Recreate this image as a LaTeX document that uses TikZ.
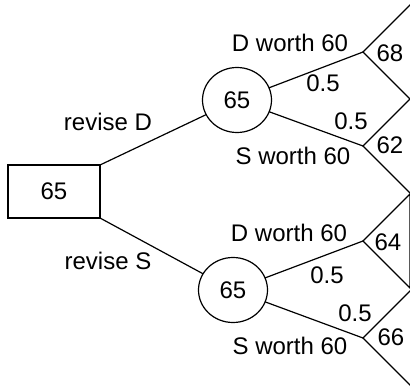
\documentclass[tikz,border=0pt]{standalone}
\usepackage{fontspec}
\setmainfont{Liberation Sans}
\usetikzlibrary{shapes.geometric}
\begin{document}
\begin{tikzpicture}[x=1pt,y=-1pt,
  every node/.style={font=\fontsize{24}{28}\selectfont, inner sep=0pt, outer sep=0pt},
  decision/.style={draw, rectangle, line width=1.2pt, minimum width=92pt, minimum height=53pt},
  chance/.style={draw, ellipse, line width=1.2pt, minimum width=69pt, minimum height=65pt},
  lab/.style={anchor=center},
  link/.style={line width=1.2pt},
  payoff/.style={line width=1.2pt, line join=miter}
]
\useasboundingbox (0,0) rectangle (410,388);
\clip (0,0) rectangle (410,388);

% decision and chance nodes
\node[decision] (root) at (54,191.5) {65};
\node[chance] (c1) at (237,100) {65};
\node[chance] (c2) at (233,290) {65};

% terminal apexes
\coordinate (t1) at (363,52);
\coordinate (t2) at (363,146);
\coordinate (t3) at (363,241);
\coordinate (t4) at (363,338);

% terminal triangles
\foreach \t/\w in {t1/48.6,t2/48.6,t3/47,t4/48.6}{
  \draw[payoff] (\t) -- ++(\w,-\w) -- ++(0,2*\w) -- cycle;
}

% connectors
\draw[link] (root.north east) -- (c1);
\draw[link] (root.south east) -- (c2);
\draw[link] (c1) -- (t1);
\draw[link] (c1) -- (t2);
\draw[link] (c2) -- (t3);
\draw[link] (c2) -- (t4);

% labels
\node[lab] (lrd) at (108,122) {revise D};
\node[lab] (lrs) at (108,261) {revise S};
\node[lab] (ld1) at (290,43) {D worth 60};
\node[lab] (ls1) at (293,156) {S worth 60};
\node[lab] (ld2) at (289,232.5) {D worth 60};
\node[lab] (ls2) at (290,346) {S worth 60};
\node[lab] (p1) at (323,83) {0.5};
\node[lab] (p2) at (351,121) {0.5};
\node[lab] (p3) at (327,275) {0.5};
\node[lab] (p4) at (355,313) {0.5};
\node[lab] (v1) at (390,53) {68};
\node[lab] (v2) at (390,145) {62};
\node[lab] (v3) at (388,242) {64};
\node[lab] (v4) at (391,337) {66};
\end{tikzpicture}
\end{document}
